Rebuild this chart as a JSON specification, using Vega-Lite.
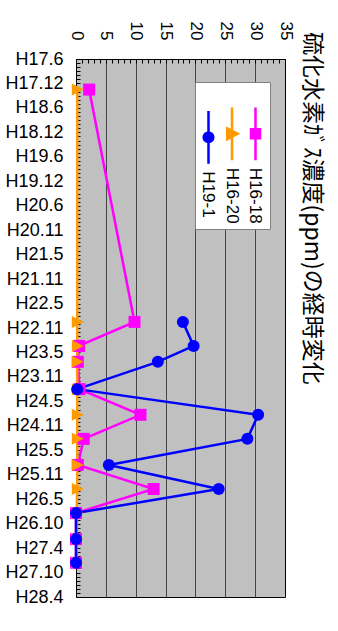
{
  "$schema": "https://vega.github.io/schema/vega-lite/v6.json",
  "width": 209,
  "height": 538,
  "autosize": {"type": "none"},
  "padding": {"left": 76, "top": 59, "right": 53, "bottom": 34},
  "background": "white",
  "title": {
    "text": "硫化水素ｶﾞｽ濃度(ppm)の経時変化",
    "orient": "right",
    "anchor": "start",
    "frame": "group",
    "font": "Noto Sans CJK JP",
    "fontSize": 23,
    "fontWeight": "normal",
    "color": "black",
    "offset": 6,
    "dx": -27
  },
  "data": {
    "values": [
      {"series": "H16-18", "t": 7.5, "value": 2.2},
      {"series": "H16-18", "t": 64.5, "value": 9.8},
      {"series": "H16-18", "t": 70.4, "value": 0.5},
      {"series": "H16-18", "t": 74.3, "value": 0.3},
      {"series": "H16-18", "t": 81, "value": 0.6},
      {"series": "H16-18", "t": 87.3, "value": 10.8},
      {"series": "H16-18", "t": 93.2, "value": 1.3},
      {"series": "H16-18", "t": 99.6, "value": 0.3},
      {"series": "H16-18", "t": 105.5, "value": 13},
      {"series": "H16-18", "t": 111.4, "value": 0},
      {"series": "H16-18", "t": 117.8, "value": 0},
      {"series": "H16-18", "t": 123.6, "value": 0},
      {"series": "H16-20", "t": 7.5, "value": 0.2},
      {"series": "H16-20", "t": 64.5, "value": 0.2},
      {"series": "H16-20", "t": 70.4, "value": 0.2},
      {"series": "H16-20", "t": 74.3, "value": 0.2},
      {"series": "H16-20", "t": 81, "value": 0.2},
      {"series": "H16-20", "t": 87.3, "value": 0.2},
      {"series": "H16-20", "t": 93.2, "value": 0.2},
      {"series": "H16-20", "t": 99.6, "value": 0.2},
      {"series": "H16-20", "t": 105.5, "value": 0.2},
      {"series": "H16-20", "t": 111.4, "value": 0.1},
      {"series": "H16-20", "t": 117.8, "value": 0.1},
      {"series": "H16-20", "t": 123.6, "value": 0.1},
      {"series": "H19-1", "t": 64.5, "value": 17.9},
      {"series": "H19-1", "t": 70.4, "value": 19.7},
      {"series": "H19-1", "t": 74.3, "value": 13.7},
      {"series": "H19-1", "t": 81, "value": 0.2},
      {"series": "H19-1", "t": 87.3, "value": 30.5},
      {"series": "H19-1", "t": 93.2, "value": 28.7},
      {"series": "H19-1", "t": 99.6, "value": 5.5},
      {"series": "H19-1", "t": 105.5, "value": 23.9},
      {"series": "H19-1", "t": 111.4, "value": 0},
      {"series": "H19-1", "t": 117.8, "value": 0},
      {"series": "H19-1", "t": 123.6, "value": 0}
    ]
  },
  "encoding": {
    "x": {
      "field": "value",
      "type": "quantitative",
      "scale": {"domain": [0, 35], "nice": false, "zero": true},
      "axis": {
        "orient": "top",
        "title": null,
        "values": [0,1,2,3,4,5,6,7,8,9,10,11,12,13,14,15,16,17,18,19,20,21,22,23,24,25,26,27,28,29,30,31,32,33,34,35],
        "labelExpr": "datum.value % 5 === 0 ? datum.label : ''",
        "labelAngle": 90,
        "labelAlign": "right",
        "labelBaseline": "middle",
        "labelFont": "Liberation Sans",
        "labelFontSize": 17,
        "labelColor": "black",
        "labelPadding": 23,
        "labelOverlap": false,
        "labelFlush": false,
        "tickSize": -4,
        "tickColor": "black",
        "domainColor": "black",
        "grid": true,
        "gridColor": "#444444",
        "gridOpacity": {"condition": {"test": "datum.value % 5 === 0 && datum.value > 0 && datum.value < 35", "value": 1}, "value": 0}
      }
    },
    "y": {
      "field": "t",
      "type": "quantitative",
      "scale": {"domain": [0, 132], "reverse": true, "nice": false, "zero": false},
      "axis": {
        "title": null,
        "values": [0,1,2,3,4,5,6,7,8,9,10,11,12,13,14,15,16,17,18,19,20,21,22,23,24,25,26,27,28,29,30,31,32,33,34,35,36,37,38,39,40,41,42,43,44,45,46,47,48,49,50,51,52,53,54,55,56,57,58,59,60,61,62,63,64,65,66,67,68,69,70,71,72,73,74,75,76,77,78,79,80,81,82,83,84,85,86,87,88,89,90,91,92,93,94,95,96,97,98,99,100,101,102,103,104,105,106,107,108,109,110,111,112,113,114,115,116,117,118,119,120,121,122,123,124,125,126,127,128,129,130,131,132],
        "labelExpr": "datum.value % 6 === 0 ? ['H17.6','H17.12','H18.6','H18.12','H19.6','H19.12','H20.6','H20.11','H21.5','H21.11','H22.5','H22.11','H23.5','H23.11','H24.5','H24.11','H25.5','H25.11','H26.5','H26.10','H27.4','H27.10','H28.4'][datum.value / 6] : ''",
        "labelFont": "Liberation Sans",
        "labelFontSize": 18,
        "labelColor": "black",
        "labelPadding": 17,
        "labelOverlap": false,
        "labelFlush": false,
        "tickSize": -4,
        "tickColor": "black",
        "domainColor": "black",
        "grid": false
      }
    },
    "color": {
      "field": "series",
      "type": "nominal",
      "scale": {"domain": ["H19-1", "H16-20", "H16-18"], "range": ["#0000FF", "#FF9900", "#FF00FF"]},
      "legend": {
        "title": null,
        "orient": "none",
        "legendX": 119,
        "legendY": 23,
        "direction": "horizontal",
        "fillColor": "white",
        "strokeColor": "#808080",
        "padding": 5,
        "symbolSize": 144,
        "symbolStrokeWidth": 2.5,
        "columnPadding": 2.5,
        "labelFont": "Liberation Sans",
        "labelFontSize": 17,
        "labelColor": "black",
        "labelOffset": 4,
        "encoding": {
          "symbols": {
            "shape": {"value": {"expr": "datum.value === 'H16-18' ? 'M0,-1.2L0,-1.2M0,1.93V10.73M-0.75,5.58H0.75V7.08H-0.75ZM0,19.3L0,19.3' : datum.value === 'H16-20' ? 'M0,-1.2L0,-1.2M0,1.93V10.73M-0.8,5.43L0.95,6.33L-0.8,7.23ZM0,19.3L0,19.3' : 'M0,-1.2L0,-1.2M0,1.93V10.73M-0.8,6.33A0.8,0.8,0,1,0,0.8,6.33A0.8,0.8,0,1,0,-0.8,6.33M0,19.3L0,19.3'"}},
            "fill": {"value": {"expr": "scale('color', datum.value)"}},
            "strokeWidth": {"value": 2.5}
          },
          "labels": {
            "angle": {"value": 90},
            "dx": {"value": 72},
            "dy": {"value": 13}
          }
        }
      }
    }
  },
  "layer": [
    {
      "mark": {"type": "line", "strokeWidth": 2.5},
      "encoding": {"order": {"field": "t", "type": "quantitative"}}
    },
    {
      "mark": {"type": "point", "filled": true, "size": 144, "opacity": 1, "strokeWidth": 0},
      "encoding": {
        "shape": {
          "field": "series",
          "type": "nominal",
          "scale": {"domain": ["H16-18", "H16-20", "H19-1"], "range": ["square", "M-0.9,-1L1.1,0L-0.9,1Z", "circle"]},
          "legend": null
        }
      }
    }
  ],
  "config": {
    "view": {"fill": "#C0C0C0", "stroke": "black", "strokeWidth": 1}
  }
}
